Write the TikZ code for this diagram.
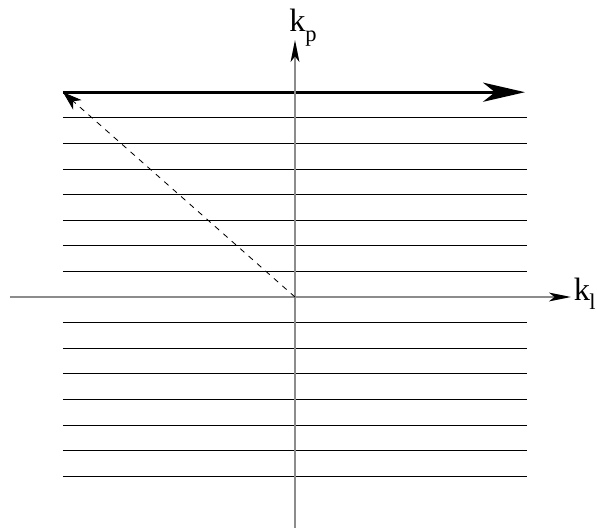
\documentclass[tikz,border=0pt]{standalone}
\usepackage{fontspec}
\setmainfont{Liberation Serif}
\usetikzlibrary{arrows.meta}

\begin{document}
\begin{tikzpicture}[
  x=1cm, y=1cm,
  axis/.style={draw=black!45, line width=1.1pt, -{Stealth[length=5.5mm, width=2.2mm, inset=1.4mm, black]}},
  level/.style={draw=black, line width=0.7pt},
  topline/.style={draw=black, line width=2pt, -{Stealth[length=10.5mm, width=4.8mm, inset=3mm]}},
  vec/.style={draw=black, line width=0.6pt, dashed, dash pattern=on 4pt off 4pt, -{Stealth[length=4.8mm, width=3.2mm, inset=1.4mm]}},
  axlabel/.style={font=\fontsize{23}{27}\selectfont, inner sep=0pt}
]

  % frame of the page
  \useasboundingbox (-7.375,-5.825) rectangle (7.55,7.425);

  \coordinate (o) at (0,0);

  % ladder of levels above and below the axis
  \foreach \n in {1,...,7} {
    \draw[level] (-5.8, 0.64*\n) -- (5.8, 0.64*\n);
    \draw[level] (-5.8,-0.64*\n) -- (5.8,-0.64*\n);
  }

  % top level with its arrow
  \coordinate (tl) at (-5.8,5.12);
  \coordinate (tr) at (5.75,5.12);
  \draw[topline] (tl) -- (tr);

  % axes
  \coordinate (xl) at (-7.125,0);
  \coordinate (xr) at (6.9,0);
  \coordinate (yb) at (0,-5.775);
  \coordinate (yt) at (0,6.425);
  \draw[axis] (xl) -- (xr);
  \draw[axis] (yb) -- (yt);

  \node[axlabel, anchor=base west] (kp) at (-0.15,6.625) {k\raisebox{-0.3em}{\fontsize{16}{18}\selectfont p}};
  \node[axlabel, anchor=base east] (kl) at (7.52,-0.075) {k\kern-0.5pt\raisebox{-0.3em}{\fontsize{16}{18}\selectfont l}};

  % dashed vector from the origin
  \draw[vec] (o) -- (tl);

\end{tikzpicture}
\end{document}
